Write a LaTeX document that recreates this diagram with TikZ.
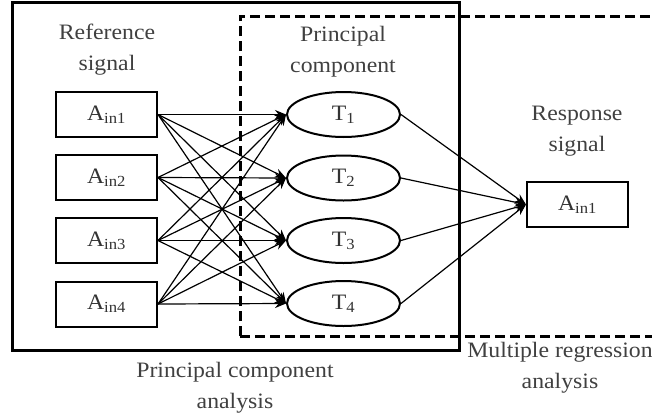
\documentclass[tikz,border=0pt]{standalone}
\usepackage{fontspec}
\setmainfont{Liberation Serif}[FakeStretch=1.08]
\usetikzlibrary{arrows.meta,shapes.geometric}
\begin{document}
\begin{tikzpicture}[x=1pt,y=-1pt,
  every node/.style={font=\fontsize{22}{31}\selectfont, text=black!80, align=center},
  sigbox/.style={draw=black, line width=2pt, minimum width=101pt, minimum height=45pt, inner sep=0pt},
  pcell/.style={draw=black, line width=2pt, ellipse, minimum width=113pt, minimum height=45pt, inner sep=0pt},
  link/.style={line width=1.2pt, -{Stealth[length=11pt,width=9pt]}},
  caption/.style={text=black!75}
]
\useasboundingbox (0,0) rectangle (652,418);
\clip (0,0) rectangle (652,418);
% outer frames
\draw[line width=3pt] (12,2) rectangle (459,350);
\draw[line width=3pt, dash pattern=on 10pt off 5pt] (240,336) -- (240,16) -- (680,16);
\draw[line width=3pt, dash pattern=on 10pt off 5pt] (240,336) -- (680,336);
% headings
\node[caption] at (107,50) {Reference\\signal};
\node[caption] at (343,52) {Principal\\component};
\node[caption] at (577,131) {Response\\signal};
\node[caption] at (235,388) {Principal component\\analysis};
\node[caption] at (560,368) {Multiple regression\\analysis};
% input signals
\node[sigbox] (a1) at (106.5,114.5) {A\textsubscript{in1}};
\node[sigbox] (a2) at (106.5,177.5) {A\textsubscript{in2}};
\node[sigbox] (a3) at (106.5,240.5) {A\textsubscript{in3}};
\node[sigbox] (a4) at (106.5,304) {A\textsubscript{in4}};
% principal components
\node[pcell] (t1) at (343.5,114.5) {T\textsubscript{1}};
\node[pcell] (t2) at (343.5,178) {T\textsubscript{2}};
\node[pcell] (t3) at (343.5,240.5) {T\textsubscript{3}};
\node[pcell] (t4) at (343.5,303.5) {T\textsubscript{4}};
% response signal
\node[sigbox] (r) at (577.5,204.5) {A\textsubscript{in1}};
% full connections
\foreach \i in {1,...,4}{
  \foreach \j in {1,...,4}{
    \draw[link] (a\i.east) -- (t\j.west);
  }
  \draw[link] (t\i.east) -- (r.west);
}
\end{tikzpicture}
\end{document}
